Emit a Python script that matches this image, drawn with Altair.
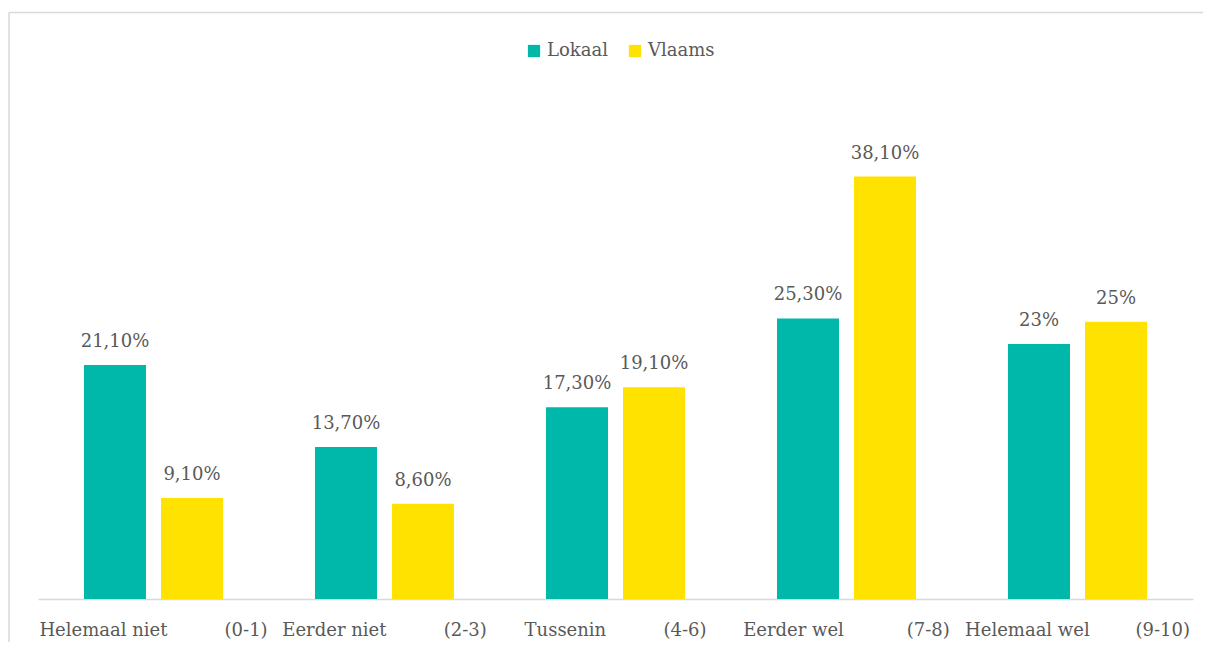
import altair as alt
import pandas as pd

NB = "\u00a0"

cat_left = ["Helemaal niet", "Eerder niet", "Tussenin", "Eerder wel", "Helemaal wel"]
cat_right = ["(0-1)", "(2-3)", "(4-6)", "(7-8)", "(9-10)"]
cat_gap = [10, 10, 10, 11, 8]

series = ["Lokaal", "Vlaams"]
lokaal = [21.1, 13.7, 17.3, 25.3, 23.0]
vlaams = [9.1, 8.6, 19.1, 38.1, 25.0]
lokaal_labels = ["21,10%", "13,70%", "17,30%", "25,30%", "23%"]
vlaams_labels = ["9,10%", "8,60%", "19,10%", "38,10%", "25%"]

colors = ["#00B8A9", "#FFE200"]
text_color = "#595959"
font = "DejaVu Serif"
fsize = 18

categories = [l + NB * g + r for l, r, g in zip(cat_left, cat_right, cat_gap)]

rows = []
for i, c in enumerate(categories):
    rows.append({"cat": c, "series": "Lokaal", "value": lokaal[i], "label": lokaal_labels[i]})
    rows.append({"cat": c, "series": "Vlaams", "value": vlaams[i], "label": vlaams_labels[i]})
df = pd.DataFrame(rows)

x_enc = alt.X(
    "cat:N",
    sort=categories,
    scale=alt.Scale(paddingInner=0, paddingOuter=0),
    axis=alt.Axis(
        title=None,
        labelAngle=0,
        labelFont=font,
        labelFontSize=fsize,
        labelColor=text_color,
        ticks=False,
        domainColor="#d9d9d9",
        domainWidth=1.5,
        labelPadding=22,
        labelLimit=500,
        labelOverlap=False,
    ),
)
xoff_enc = alt.XOffset(
    "series:N",
    sort=series,
    scale=alt.Scale(paddingInner=0.1948, paddingOuter=0.597),
)
y_enc = alt.Y("value:Q", scale=alt.Scale(domain=[0, 45], nice=False), axis=None)

base = alt.Chart(df)

bars = base.mark_bar().encode(
    x=x_enc,
    xOffset=xoff_enc,
    y=y_enc,
    color=alt.Color(
        "series:N",
        sort=series,
        scale=alt.Scale(domain=series, range=colors),
        legend=alt.Legend(
            title=None,
            orient="none",
            direction="horizontal",
            legendX=487,
            legendY=-58,
            symbolType="square",
            symbolSize=150,
            symbolStrokeWidth=0,
            labelFont=font,
            labelFontSize=fsize,
            labelColor=text_color,
            labelOffset=4,
            columnPadding=18,
            padding=0,
        ),
    ),
)

texts = base.mark_text(
    baseline="alphabetic",
    dy=-18,
    font=font,
    fontSize=fsize,
    color=text_color,
).encode(
    x=x_enc,
    xOffset=xoff_enc,
    y=y_enc,
    text="label:N",
)

one = alt.Chart(pd.DataFrame({"a": [0]}))
frame_top = one.mark_rule(color="#d9d9d9", strokeWidth=1.5).encode(
    x=alt.value(-29), x2=alt.value(1400), y=alt.value(-87.5)
)
frame_left = one.mark_rule(color="#d9d9d9", strokeWidth=1.5).encode(
    x=alt.value(-29), y=alt.value(-87.5), y2=alt.value(800)
)

chart = (
    alt.layer(frame_top, frame_left, bars, texts)
    .properties(
        width=1155,
        height=499,
        autosize=alt.AutoSizeParams(type="none"),
        padding={"left": 30, "top": 92, "right": 10, "bottom": 43},
        background="white",
    )
    .configure_view(stroke=None)
)

chart.save("out.html", embed_options={"renderer": "svg", "actions": False})
